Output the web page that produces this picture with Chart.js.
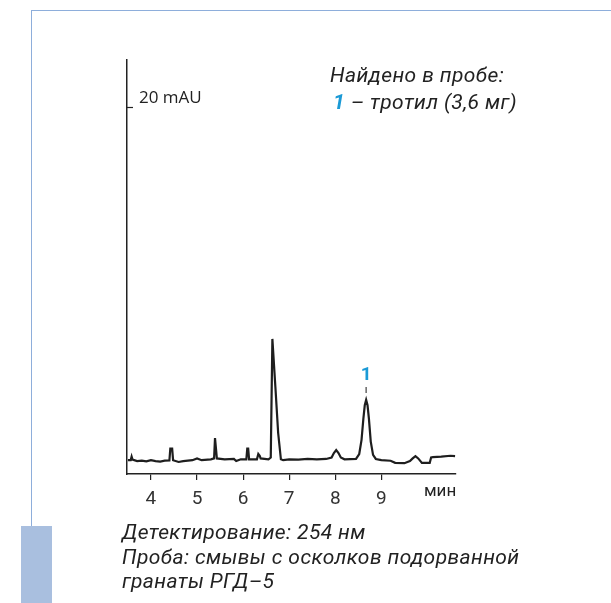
<!DOCTYPE html>
<html>
<head>
<meta charset="utf-8">
<script src="https://cdn.jsdelivr.net/npm/chart.js@4"></script>
<style>
  html, body { margin: 0; padding: 0; background: #fff; }
  #wrap { position: relative; width: 611px; height: 603px; overflow: hidden; }
  #chartBox { position: absolute; left: 0; top: 0; width: 611px; height: 603px; }
  .frameTop { position: absolute; left: 31px; top: 10px; width: 580px; height: 1px; background: #8eaedb; }
  .frameLeft { position: absolute; left: 31px; top: 10px; width: 1px; height: 516px; background: #8eaedb; }
  .frameBlock { position: absolute; left: 21px; top: 526px; width: 31px; height: 77px; background: #a9bfdf; }
  .txt { position: absolute; font-family: Roboto, sans-serif; font-style: italic; font-size: 21px; letter-spacing: 0.4px; color: #222; white-space: nowrap; line-height: 24px; }
  .blue { color: #1b9ad6; font-weight: bold; }
</style>
</head>
<body>
<div id="wrap">
  <div class="frameTop"></div>
  <div class="frameLeft"></div>
  <div class="frameBlock"></div>
  <div id="chartBox"><canvas id="chart"></canvas></div>
  <div class="txt" style="left:330px; top:63px;">Найдено в пробе:</div>
  <div class="txt" style="left:333px; top:90px;"><span class="blue">1</span> – тротил (3,6 мг)</div>
  <div class="txt" style="left:122px; top:520px;">Детектирование: 254 нм</div>
  <div class="txt" style="left:122px; top:545px;">Проба: смывы с осколков подорванной</div>
  <div class="txt" style="left:122px; top:569px;">гранаты РГД–5</div>
</div>
<script>
// retention time, min
const times = [
  3.50, 3.56, 3.58, 3.60, 3.70, 3.80, 3.90, 4.00, 4.10, 4.20, 4.30, 4.40,
  4.42, 4.46, 4.48, 4.60, 4.70, 4.90, 5.00, 5.10, 5.30, 5.37, 5.39, 5.41,
  5.43, 5.60, 5.80, 5.85, 5.95, 6.07, 6.09, 6.11, 6.13, 6.30, 6.33, 6.36,
  6.38, 6.55, 6.60, 6.635, 6.70, 6.76, 6.82, 6.87, 7.00, 7.20, 7.40, 7.60,
  7.80, 7.92, 7.97, 8.02, 8.07, 8.12, 8.20, 8.45, 8.52, 8.57, 8.61, 8.64,
  8.67, 8.70, 8.73, 8.77, 8.82, 8.88, 9.00, 9.20, 9.30, 9.50, 9.62, 9.68,
  9.74, 9.80, 9.88, 10.05, 10.08, 10.12, 10.30, 10.50, 10.60
];
// absorbance, mAU
const signal = [
  0.05, 0.05, 0.25, 0.08, 0.00, 0.02, -0.02, 0.05, 0.00, -0.03, 0.02, 0.03,
  0.70, 0.70, 0.05, -0.05, 0.00, 0.05, 0.15, 0.05, 0.10, 0.15, 1.30, 1.30,
  0.15, 0.10, 0.12, 0.00, 0.10, 0.10, 0.70, 0.70, 0.10, 0.10, 0.40, 0.30,
  0.15, 0.10, 0.20, 6.90, 4.20, 1.60, 0.10, 0.05, 0.10, 0.08, 0.12, 0.10,
  0.12, 0.20, 0.45, 0.62, 0.45, 0.20, 0.10, 0.12, 0.40, 1.20, 2.40, 3.15,
  3.45, 3.15, 2.40, 1.10, 0.35, 0.12, 0.05, 0.02, -0.10, -0.12, 0.00, 0.15,
  0.28, 0.15, -0.10, -0.10, 0.20, 0.22, 0.25, 0.30, 0.28
];
const xTicks = [4, 5, 6, 7, 8, 9];
const yTicks = [20];
const peakTimes = [8.67];
const peakLabels = ['1'];

const points = times.map((t, i) => ({ x: t, y: signal[i] }));

const extras = {
  id: 'extras',
  afterDraw(chart) {
    const ctx = chart.ctx;
    const xs = chart.scales.x;
    const ys = chart.scales.y;
    const area = chart.chartArea;
    ctx.save();
    // inward tick on the y axis
    ctx.strokeStyle = '#222';
    ctx.lineWidth = 1.2;
    yTicks.forEach(v => {
      const py = Math.round(ys.getPixelForValue(v)) + 0.5;
      ctx.beginPath();
      ctx.moveTo(area.left, py);
      ctx.lineTo(area.left + 6, py);
      ctx.stroke();
    });
    // axis unit
    ctx.fillStyle = '#222';
    ctx.font = '17px Roboto, sans-serif';
    ctx.textAlign = 'left';
    ctx.textBaseline = 'middle';
    ctx.fillText('мин', area.right - 32, area.bottom + 18);
    // peak labels
    peakTimes.forEach((t, i) => {
      const px = xs.getPixelForValue(t);
      const idx = times.indexOf(t);
      const top = ys.getPixelForValue(signal[idx]);
      ctx.fillStyle = '#1b9ad6';
      ctx.font = 'bold 19px Roboto, sans-serif';
      ctx.textAlign = 'center';
      ctx.textBaseline = 'alphabetic';
      ctx.fillText(peakLabels[i], px, top - 20);
      ctx.strokeStyle = '#666';
      ctx.lineWidth = 1.5;
      ctx.beginPath();
      ctx.moveTo(px, top - 13);
      ctx.lineTo(px, top - 7);
      ctx.stroke();
    });
    ctx.restore();
  }
};

new Chart(document.getElementById('chart'), {
  type: 'scatter',
  data: {
    datasets: [{
      data: points,
      showLine: true,
      borderColor: '#1e1e1e',
      borderWidth: 2.2,
      pointRadius: 0,
      tension: 0
    }]
  },
  options: {
    responsive: true,
    maintainAspectRatio: false,
    animation: false,
    layout: { padding: { left: 127, top: 60, right: 155, bottom: 99 } },
    plugins: { legend: { display: false }, tooltip: { enabled: false } },
    scales: {
      x: {
        type: 'linear',
        min: 3.48,
        max: 10.62,
        afterBuildTicks: s => { s.ticks = xTicks.map(v => ({ value: v })); },
        afterFit: s => { s.height = 30; },
        border: { display: true, color: '#222', width: 1.5 },
        grid: { drawOnChartArea: false, drawTicks: true, tickLength: 6, color: '#222', lineWidth: 1.2 },
        ticks: { color: '#333', font: { family: 'Roboto, sans-serif', size: 19 }, padding: 8, maxRotation: 0 }
      },
      y: {
        type: 'linear',
        min: -0.73,
        max: 22.65,
        afterBuildTicks: s => { s.ticks = yTicks.map(v => ({ value: v })); },
        afterFit: s => { s.width = 0; },
        border: { display: true, color: '#222', width: 1.5 },
        grid: { drawOnChartArea: false, drawTicks: false },
        ticks: {
          mirror: true,
          padding: 12,
          labelOffset: -9,
          color: '#222',
          font: { family: '"Open Sans", sans-serif', size: 17 },
          callback: v => v + ' mAU'
        }
      }
    }
  },
  plugins: [extras]
});
</script>
</body>
</html>
